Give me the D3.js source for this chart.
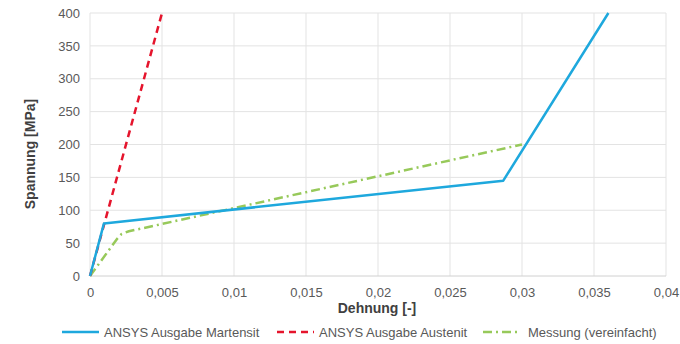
<!DOCTYPE html>
<html>
<head>
<meta charset="utf-8">
<script src="https://cdn.jsdelivr.net/npm/d3@7"></script>
<style>
  html, body { margin: 0; padding: 0; background: #fff; }
  svg { display: block; font-family: "Liberation Sans", Arial, sans-serif; }
</style>
</head>
<body>
<svg id="chart" width="680" height="344"></svg>
<script>
// Spannungs-Dehnungs-Verläufe (Dehnung [-], Spannung [MPa])
const martensitStrain = [0, 0.00097, 0.0287, 0.036];
const martensitStress = [0, 80, 145, 400];

const austenitStrain = [0, 0.005];
const austenitStress = [0, 400];

const messungStrain = [0, 0.0012, 0.0019, 0.0022, 0.0027, 0.030];
const messungStress = [0, 36, 57, 64, 68, 200];

const xTicks = [0, 0.005, 0.01, 0.015, 0.02, 0.025, 0.03, 0.035, 0.04];
const yTicks = [0, 50, 100, 150, 200, 250, 300, 350, 400];

const seriesNames = ["ANSYS Ausgabe Martensit", "ANSYS Ausgabe Austenit", "Messung (vereinfacht)"];

const svg = d3.select("#chart");
const margin = { left: 90, right: 14, top: 13, bottom: 68 };
const W = 680, H = 344;

const x = d3.scaleLinear().domain([0, 0.04]).range([margin.left, W - margin.right]);
const y = d3.scaleLinear().domain([0, 400]).range([H - margin.bottom, margin.top]);

const fmtX = v => v === 0 ? "0" : String(+v.toFixed(3)).replace(".", ",");

// Gitterlinien
svg.append("g")
  .selectAll("line.v")
  .data(xTicks)
  .join("line")
  .attr("x1", d => x(d)).attr("x2", d => x(d))
  .attr("y1", y(400)).attr("y2", y(0))
  .attr("stroke", "#e3e3e3").attr("stroke-width", 1);

svg.append("g")
  .selectAll("line.h")
  .data(yTicks)
  .join("line")
  .attr("x1", x(0)).attr("x2", x(0.04))
  .attr("y1", d => y(d)).attr("y2", d => y(d))
  .attr("stroke", d => d === 0 ? "#d0d0d0" : "#e3e3e3").attr("stroke-width", 1);

// Achsen
const xAxis = svg.append("g")
  .attr("transform", `translate(0,${y(0)})`)
  .call(d3.axisBottom(x).tickValues(xTicks).tickFormat(fmtX).tickSize(0).tickPadding(12));
xAxis.select(".domain").remove();
xAxis.selectAll("text").attr("fill", "#595959").style("font-size", "13px");

const yAxis = svg.append("g")
  .attr("transform", `translate(${x(0)},0)`)
  .call(d3.axisLeft(y).tickValues(yTicks).tickSize(0).tickPadding(10));
yAxis.select(".domain").remove();
yAxis.selectAll("text").attr("fill", "#595959").style("font-size", "13px");

// Achsentitel
svg.append("text")
  .attr("x", 377).attr("y", 313)
  .attr("text-anchor", "middle")
  .attr("fill", "#404040").style("font-size", "14px").style("font-weight", "bold")
  .text("Dehnung [-]");

svg.append("text")
  .attr("transform", "translate(35,154) rotate(-90)")
  .attr("text-anchor", "middle")
  .attr("fill", "#404040").style("font-size", "14px").style("font-weight", "bold")
  .text("Spannung [MPa]");

// Kurven
const line = d3.line().x(d => x(d[0])).y(d => y(d[1]));
const series = [
  { name: seriesNames[0], pts: d3.zip(martensitStrain, martensitStress), color: "#1ea8dd", dash: null, width: 2.5 },
  { name: seriesNames[1], pts: d3.zip(austenitStrain, austenitStress), color: "#e5142c", dash: "7,5", width: 2.5 },
  { name: seriesNames[2], pts: d3.zip(messungStrain, messungStress), color: "#97c95a", dash: "9,4,2,4", width: 2.5 }
];

svg.append("g")
  .selectAll("path")
  .data([series[2], series[1], series[0]])
  .join("path")
  .attr("d", d => line(d.pts))
  .attr("fill", "none")
  .attr("stroke", d => d.color)
  .attr("stroke-width", d => d.width)
  .attr("stroke-dasharray", d => d.dash)
  .attr("stroke-linejoin", "round");

// Legende
const legendLineX = [62, 277, 483];
const legendTextX = [104, 319, 528];
const leg = svg.append("g")
  .selectAll("g")
  .data(series)
  .join("g");
leg.append("line")
  .attr("x1", (d, i) => legendLineX[i]).attr("x2", (d, i) => legendLineX[i] + 37)
  .attr("y1", 332).attr("y2", 332)
  .attr("stroke", d => d.color).attr("stroke-width", 2.5)
  .attr("stroke-dasharray", d => d.dash);
leg.append("text")
  .attr("x", (d, i) => legendTextX[i]).attr("y", 336.5)
  .attr("fill", "#595959").style("font-size", "13px")
  .text(d => d.name);
</script>
</body>
</html>
